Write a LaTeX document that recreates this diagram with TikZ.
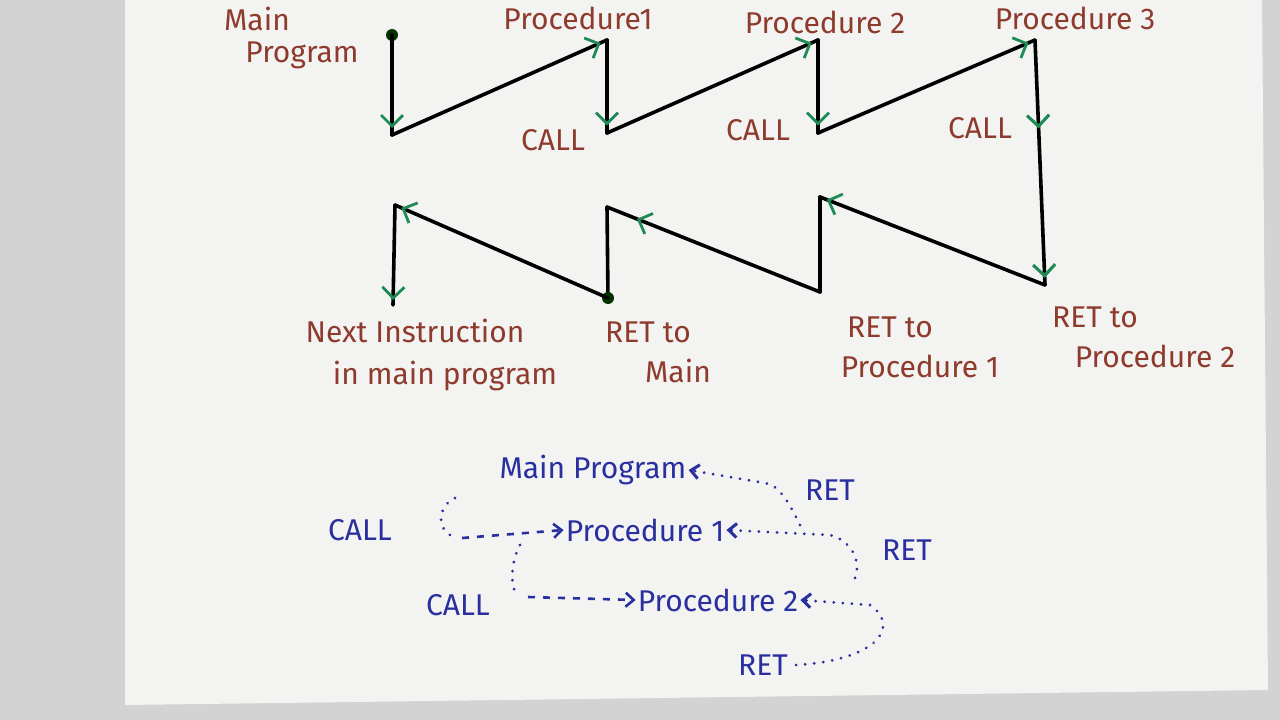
\documentclass[tikz,border=0pt]{standalone}
\usepackage{fontspec}
\setmainfont{Fira Sans}
\usetikzlibrary{arrows.meta,decorations.markings}
\definecolor{paper}{HTML}{F3F3F1}
\definecolor{edge}{HTML}{D2D3D2}
\definecolor{redink}{HTML}{8E3B2E}
\definecolor{blueink}{HTML}{2A2FA0}
\definecolor{greenink}{HTML}{1E8A55}
\begin{document}
\begin{tikzpicture}[x=1pt,y=-1pt,
  seg/.style={line width=3.6pt,black,line cap=round},
  tipend/.style={postaction={decorate},decoration={markings,mark=at position #1 with {\arrow[greenink,line width=2.8pt]{Straight Barb[length=11pt,width=22pt]}}}},
  rl/.style={text=redink,font=\fontsize{30}{34}\selectfont,align=center,inner sep=1pt},
  bl/.style={text=blueink,font=\fontsize{30}{34}\selectfont,inner sep=2pt},
  dots/.style={blueink,line width=3pt,dash pattern=on 0.1pt off 9pt,line cap=round},
  dsh/.style={blueink,line width=2.6pt,dash pattern=on 7pt off 8pt},
  btip/.style={-{Straight Barb[length=8pt,width=14pt]}}]
\useasboundingbox (0,0) rectangle (1280,720);
\fill[edge] (0,0) rectangle (1280,720);
\fill[paper] (125,0) -- (1262,0) -- (1268,690) -- (125,705) -- cycle;
% upper zigzag
\coordinate (m0) at (392,35);
\coordinate (m1) at (392,135);
\coordinate (p1a) at (607,40);
\coordinate (p1b) at (607,133);
\coordinate (p2a) at (818,40);
\coordinate (p2b) at (818,133);
\coordinate (p3a) at (1035,40);
\coordinate (p3b) at (1045,285);
\coordinate (r1a) at (820,197);
\coordinate (r1b) at (820,292);
\coordinate (r2a) at (607,207);
\coordinate (r2b) at (608,298);
\coordinate (r3a) at (395,205);
\coordinate (r3b) at (393,305);
\fill[black!80!green] (m0) circle (6pt);
\draw[seg,tipend=0.93] (m0) -- (m1);
\draw[seg,tipend=0.97] (m1) -- (p1a);
\draw[seg,tipend=0.92] (p1a) -- (p1b);
\draw[seg,tipend=0.97] (p1b) -- (p2a);
\draw[seg,tipend=0.92] (p2a) -- (p2b);
\draw[seg,tipend=0.97] (p2b) -- (p3a);
\draw[seg,tipend=0.36,tipend=0.97] (p3a) -- (p3b);
\draw[seg,tipend=0.97] (p3b) -- (r1a);
\draw[seg] (r1a) -- (r1b);
\draw[seg,tipend=0.86] (r1b) -- (r2a);
\draw[seg] (r2a) -- (r2b);
\fill[black!80!green] (r2b) circle (6pt);
\draw[seg,tipend=0.97] (r2b) -- (r3a);
\draw[seg,tipend=0.95] (r3a) -- (r3b);
% red labels
\node[rl] (lmain) at (275,38) {Main\hspace*{1.2em}\\[-2pt]\hspace*{1.8em}Program};
\node[rl] (lp1) at (578,18) {Procedure1};
\node[rl] (lp2) at (825,22) {Procedure 2};
\node[rl] (lp3) at (1075,18) {Procedure 3};
\node[rl] (c1) at (553,140) {CALL};
\node[rl] (c2) at (758,130) {CALL};
\node[rl] (c3) at (980,128) {CALL};
\node[rl] (next) at (415,355) {Next Instruction\\[8pt]\hspace*{2em}in main program};
\node[rl] (ret1) at (648,352) {RET to\\[6pt]\hspace*{2em}Main};
\node[rl] (ret2) at (890,347) {RET to\\[6pt]\hspace*{2em}Procedure 1};
\node[rl] (ret3) at (1140,337) {RET to\hspace*{3em}\\[6pt]\hspace*{1em}Procedure 2};
% lower blue
\node[bl] (mp) at (593,470) {Main Program};
\node[bl] (bret1) at (830,490) {RET};
\node[bl] (bcall1) at (360,530) {CALL};
\node[bl] (pr1) at (645,530) {Procedure 1};
\node[bl] (bret2) at (907,550) {RET};
\node[bl] (bcall2) at (458,605) {CALL};
\node[bl] (pr2) at (718,600) {Procedure 2};
\node[bl] (bret3) at (763,665) {RET};
% call paths
\draw[dots] (455,498) .. controls (440,505) and (435,525) .. (450,535);
\draw[dsh,btip] (462,538) -- (pr1.west);
\draw[dots] (520,545) .. controls (512,560) and (510,580) .. (515,592);
\draw[dsh,btip] (528,597) -- (pr2.west);
% return paths
\draw[dots,btip] (bret3.east) ++(6,0) .. controls (880,660) and (900,625) .. (870,605) -- (pr2.east);
\draw[dots,btip] (855,578) .. controls (862,560) and (850,540) .. (830,535) -- (pr1.east);
\draw[dots,btip] (800,525) .. controls (790,505) and (780,485) .. (765,483) -- (mp.east);
\end{tikzpicture}
\end{document}
